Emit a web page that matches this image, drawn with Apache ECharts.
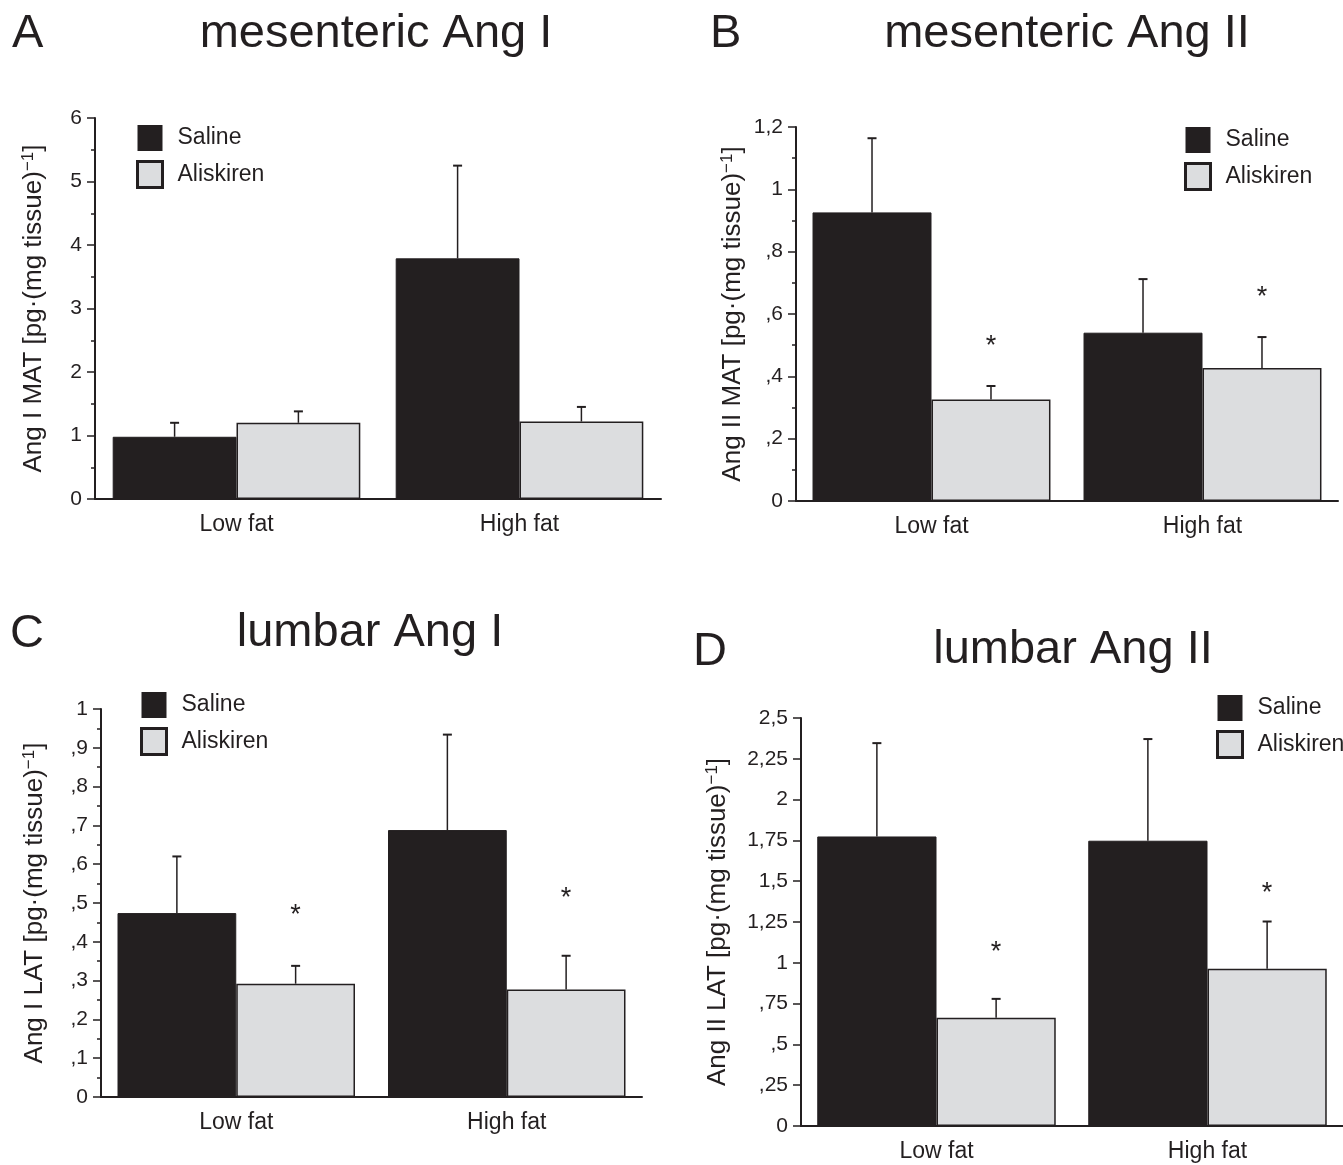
<!DOCTYPE html>
<html>
<head>
<meta charset="utf-8">
<script src="https://cdn.jsdelivr.net/npm/echarts@6/dist/echarts.min.js"></script>
<style>
  html, body { margin: 0; padding: 0; background: #fff; }
  #chart { width: 1343px; height: 1165px; }
</style>
</head>
<body>
<div id="chart"></div>
<script>
// categories
var groups = ['Low fat', 'High fat'];

// A: mesenteric Ang I (mean, SEM)
var salineA = [0.98, 3.79];
var salineSemA = [0.22, 1.46];
var aliskA = [1.20, 1.22];
var aliskSemA = [0.18, 0.23];
var starsA = [];

// B: mesenteric Ang II
var salineB = [0.926, 0.540];
var salineSemB = [0.238, 0.172];
var aliskB = [0.326, 0.427];
var aliskSemB = [0.043, 0.099];
var starsB = [0.516, 0.671];

// C: lumbar Ang I
var salineC = [0.474, 0.688];
var salineSemC = [0.146, 0.246];
var aliskC = [0.292, 0.277];
var aliskSemC = [0.046, 0.087];
var starsC = [0.483, 0.528];

// D: lumbar Ang II
var salineD = [1.774, 1.748];
var salineSemD = [0.572, 0.623];
var aliskD = [0.664, 0.963];
var aliskSemD = [0.115, 0.290];
var starsD = [1.102, 1.459];

// tick labels
var yLabelsA = ['0', '1', '2', '3', '4', '5', '6'];
var yLabelsB = ['0', ',2', ',4', ',6', ',8', '1', '1,2'];
var yLabelsC = ['0', ',1', ',2', ',3', ',4', ',5', ',6', ',7', ',8', ',9', '1'];
var yLabelsD = ['0', ',25', ',5', ',75', '1', '1,25', '1,5', '1,75', '2', '2,25', '2,5'];

var FONT = "'Liberation Sans', Arial, Helvetica, sans-serif";
var INK = '#231f20';
var LIGHT = '#dcdddf';

var panels = [
    { letter: 'A', title: 'mesenteric Ang I', yName: 'Ang I MAT',
      saline: salineA, salineSem: salineSemA, alisk: aliskA, aliskSem: aliskSemA, stars: starsA,
      labels: yLabelsA, max: 6, interval: 1, minor: true, gap: 0.125,
      grid: { left: 95, top: 118, width: 566, height: 381 }, nameGap: 48,
      legend: { left: 136, top: 125 },
      letterPos: [12, 34], titlePos: [376, 34] },
    { letter: 'B', title: 'mesenteric Ang II', yName: 'Ang II MAT',
      saline: salineB, salineSem: salineSemB, alisk: aliskB, aliskSem: aliskSemB, stars: starsB,
      labels: yLabelsB, max: 1.2, interval: 0.2, minor: true, gap: 0.122,
      grid: { left: 796, top: 127, width: 542, height: 374 }, nameGap: 50,
      legend: { left: 1184, top: 127 },
      letterPos: [710, 34], titlePos: [1067, 34] },
    { letter: 'C', title: 'lumbar Ang I', yName: 'Ang I LAT',
      saline: salineC, salineSem: salineSemC, alisk: aliskC, aliskSem: aliskSemC, stars: starsC,
      labels: yLabelsC, max: 1, interval: 0.1, minor: true, gap: 0.122,
      grid: { left: 101, top: 709, width: 541, height: 388 }, nameGap: 53,
      legend: { left: 140, top: 692 },
      letterPos: [10, 634], titlePos: [370, 633] },
    { letter: 'D', title: 'lumbar Ang II', yName: 'Ang II LAT',
      saline: salineD, salineSem: salineSemD, alisk: aliskD, aliskSem: aliskSemD, stars: starsD,
      labels: yLabelsD, max: 2.5, interval: 0.25, minor: false, gap: 0.12,
      grid: { left: 801, top: 718, width: 546, height: 408 }, nameGap: 70,
      legend: { left: 1216, top: 695 },
      letterPos: [693, 652], titlePos: [1073, 650] }
];

// error bar (upper only) drawn at the centre of the saline (-1) or aliskiren (+1) bar
function errorRenderer(side, gap) {
    return function (params, api) {
        var cat = api.value(0);
        var base = api.coord([cat, api.value(1)]);
        var top = api.coord([cat, api.value(2)]);
        var band = api.size([1, 0])[0];
        var barW = band * (1 - gap) / 2;
        var x = base[0] + side * barW / 2;
        return {
            type: 'group',
            children: [
                { type: 'line', shape: { x1: x, y1: base[1], x2: x, y2: top[1] }, style: { stroke: INK, lineWidth: 1.5 } },
                { type: 'line', shape: { x1: x - 4.5, y1: top[1], x2: x + 4.5, y2: top[1] }, style: { stroke: INK, lineWidth: 2 } }
            ]
        };
    };
}

function starRenderer(gap) {
    return function (params, api) {
        var p = api.coord([api.value(0), api.value(1)]);
        var band = api.size([1, 0])[0];
        var barW = band * (1 - gap) / 2;
        return {
            type: 'text',
            x: p[0] + barW / 2,
            y: p[1] + 6,
            style: { text: '*', fontSize: 27, fontFamily: FONT, fill: INK, align: 'center', verticalAlign: 'middle' }
        };
    };
}

var grids = [], xAxes = [], yAxes = [], series = [], legends = [], graphics = [];

panels.forEach(function (p, i) {
    grids.push(p.grid);
    xAxes.push({
        type: 'category', gridIndex: i, data: groups,
        axisLine: { lineStyle: { color: INK, width: 2 } },
        axisTick: { alignWithLabel: true, length: 5, lineStyle: { color: INK, width: 1.5 } },
        axisLabel: { color: INK, fontSize: 23, fontFamily: FONT, margin: 14 }
    });
    yAxes.push({
        type: 'value', gridIndex: i, min: 0, max: p.max, interval: p.interval,
        name: '{m|' + p.yName + ' [pg·(mg tissue)}{s|−1}{m|]}',
        nameLocation: 'middle', nameGap: p.nameGap,
        nameTextStyle: {
            color: INK, fontFamily: FONT,
            rich: {
                m: { fontSize: 26, fontFamily: FONT, color: INK },
                s: { fontSize: 17, fontFamily: FONT, color: INK, verticalAlign: 'top', padding: [0, 0, 10, 0] }
            }
        },
        splitLine: { show: false },
        axisLine: { show: true, lineStyle: { color: INK, width: 2 } },
        axisTick: { show: true, length: 8, lineStyle: { color: INK, width: 1.5 } },
        minorTick: { show: p.minor, splitNumber: 2, length: 4, lineStyle: { color: INK, width: 1.5 } },
        axisLabel: {
            color: INK, fontSize: 21, fontFamily: FONT, margin: 13,
            formatter: (function (labels, step) {
                return function (v) { return labels[Math.round(v / step)]; };
            })(p.labels, p.interval)
        }
    });

    series.push({
        name: 'Saline', type: 'bar', xAxisIndex: i, yAxisIndex: i,
        data: p.saline, barGap: '0%', barCategoryGap: (p.gap * 100) + '%',
        itemStyle: { color: INK, borderColor: INK, borderWidth: 1 }
    });
    series.push({
        name: 'Aliskiren', type: 'bar', xAxisIndex: i, yAxisIndex: i,
        data: p.alisk, barGap: '0%', barCategoryGap: (p.gap * 100) + '%',
        itemStyle: { color: LIGHT, borderColor: INK, borderWidth: 1.5 }
    });
    series.push({
        type: 'custom', xAxisIndex: i, yAxisIndex: i, z: 5,
        renderItem: errorRenderer(-1, p.gap),
        data: p.saline.map(function (v, k) { return [k, v, v + p.salineSem[k]]; })
    });
    series.push({
        type: 'custom', xAxisIndex: i, yAxisIndex: i, z: 5,
        renderItem: errorRenderer(1, p.gap),
        data: p.alisk.map(function (v, k) { return [k, v, v + p.aliskSem[k]]; })
    });
    if (p.stars.length) {
        series.push({
            type: 'custom', xAxisIndex: i, yAxisIndex: i, z: 5,
            renderItem: starRenderer(p.gap),
            data: p.stars.map(function (v, k) { return [k, v]; })
        });
    }

    legends.push({
        orient: 'vertical', left: p.legend.left, top: p.legend.top, padding: 0,
        itemWidth: 25, itemHeight: 26, itemGap: 9, selectedMode: false,
        textStyle: { color: INK, fontSize: 23, fontFamily: FONT, padding: [0, 0, 0, 10] },
        data: [
            { name: 'Saline', icon: 'rect', itemStyle: { color: INK, borderWidth: 0 } },
            { name: 'Aliskiren', icon: 'rect', itemStyle: { color: LIGHT, borderColor: INK, borderWidth: 3 } }
        ]
    });

    graphics.push({
        type: 'text', x: p.letterPos[0], y: p.letterPos[1],
        style: { text: p.letter, fontSize: 47, fontFamily: FONT, fill: INK, align: 'left', verticalAlign: 'middle' }
    });
    graphics.push({
        type: 'text', x: p.titlePos[0], y: p.titlePos[1],
        style: { text: p.title, fontSize: 47, fontFamily: FONT, fill: INK, align: 'center', verticalAlign: 'middle' }
    });
});

var myChart = echarts.init(document.getElementById('chart'));
myChart.setOption({
    backgroundColor: '#ffffff',
    animation: false,
    grid: grids,
    xAxis: xAxes,
    yAxis: yAxes,
    legend: legends,
    graphic: graphics,
    series: series
});
</script>
</body>
</html>
